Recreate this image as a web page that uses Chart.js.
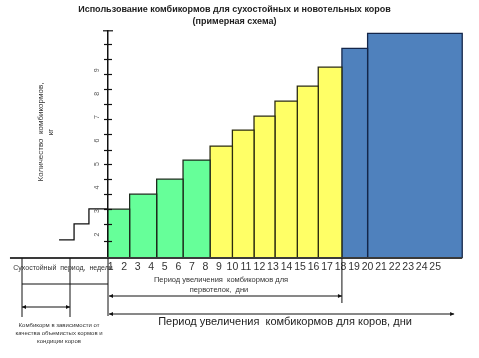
<!DOCTYPE html>
<html><head><meta charset="utf-8">
<script src="https://cdn.jsdelivr.net/npm/chart.js@4"></script>
<style>html,body{margin:0;padding:0;background:#fff}#wrap{width:479px;height:358px;position:relative}</style>
</head><body><div id="wrap"><canvas id="c"></canvas></div>
<script>
// ---- data ----
const titleLines = ['Использование комбикормов для сухостойных и новотельных коров', '(примерная схема)'];
const yTitleLines = ['Количество  комбикормов,', 'кг'];
const dayLabels = [1,2,3,4,5,6,7,8,9,10,11,12,13,14,15,16,17,18,19,20,21,22,23,24,25];
// bar boundaries along the day axis and bar heights (kg)
const barEdges = [0.8, 2.4, 4.4, 6.35, 8.35, 10, 11.6, 13.15, 14.8, 16.35, 18.1, 20, 27];
const barHeights = [3.08, 3.72, 4.36, 5.17, 5.77, 6.45, 7.04, 7.68, 8.32, 9.13, 9.93, 10.57];
const barGroups = ['early','early','early','early','heifer','heifer','heifer','heifer','heifer','heifer','cow','cow'];
const yLabelValues = [2, 3, 4, 5, 6, 7, 8, 9];
const yTickMarks = [1.72, 2.45, 3.09, 3.72, 4.36, 5.0, 5.6, 6.28, 6.91, 7.55, 8.19, 8.83, 9.47, 10.11];
// dry period staircase (left of the axis)
const dryStairX = [-2.82, -1.71, -0.61, 0.8];
const dryStairY = [1.77, 2.45, 3.09];
const dryMarks = [-5.56, -2.01];
const baselineStart = -6.45;
const heiferPeriodEnd = 18.1;
const cowPeriodEnd = 26.4;
const dryText = 'Сухостойный  период,  недели';
const heiferText = ['Период увеличения  комбикормов для', 'первотелок,  дни'];
const cowText = 'Период увеличения  комбикормов для коров, дни';
const noteText = ['Комбикорм в зависимости от', 'качества объемистых кормов и', 'кондиции коров'];

const groupFill = {early: '#66FF99', heifer: '#FFFF66', cow: '#4F81BD'};
const groupLine = {early: '#1d2b1d', heifer: '#2b2b10', cow: '#14264a'};

const datasets = barHeights.map((h, i) => ({
  data: [
    {x: barEdges[i], y: 1}, {x: barEdges[i], y: h},
    {x: barEdges[i+1], y: h}, {x: barEdges[i+1], y: 1}
  ],
  fill: 'start',
  backgroundColor: groupFill[barGroups[i]],
  borderColor: groupLine[barGroups[i]],
  borderWidth: 1.3,
  pointRadius: 0,
  tension: 0
}));

const FAM = '"Liberation Sans", Arial, sans-serif';

function seg(ctx, x1, y1, x2, y2) { ctx.beginPath(); ctx.moveTo(x1, y1); ctx.lineTo(x2, y2); ctx.stroke(); }
function arrow(ctx, x1, x2, y) {
  seg(ctx, x1, y, x2, y);
  ctx.beginPath();
  ctx.moveTo(x1, y); ctx.lineTo(x1 + 4, y - 2); ctx.lineTo(x1 + 4, y + 2); ctx.closePath(); ctx.fill();
  ctx.beginPath();
  ctx.moveTo(x2, y); ctx.lineTo(x2 - 4, y - 2); ctx.lineTo(x2 - 4, y + 2); ctx.closePath(); ctx.fill();
}

const deco = {
  id: 'deco',
  afterDraw(chart) {
    const {ctx, chartArea: a, scales: {x, y}} = chart;
    const X = v => x.getPixelForValue(v), Y = v => y.getPixelForValue(v);
    const b = a.bottom;
    ctx.save();
    // baseline
    ctx.strokeStyle = '#3a3a3a'; ctx.lineWidth = 2;
    seg(ctx, X(baselineStart), b, X(barEdges[barEdges.length - 1]), b);
    // y tick marks + cap
    ctx.strokeStyle = '#111'; ctx.lineWidth = 1.2;
    yTickMarks.forEach(v => seg(ctx, a.left - 4, Math.round(Y(v)) + 0.5, a.left + 4, Math.round(Y(v)) + 0.5));
    seg(ctx, a.left - 5, a.top + 0.5, a.left + 5, a.top + 0.5);
    // y labels (rotated)
    ctx.fillStyle = '#555'; ctx.font = '7px ' + FAM; ctx.textAlign = 'center'; ctx.textBaseline = 'middle';
    yLabelValues.forEach(v => { ctx.save(); ctx.translate(a.left - 11, Y(v)); ctx.rotate(-Math.PI / 2); ctx.fillText(String(v), 0, 0); ctx.restore(); });
    // y title
    ctx.fillStyle = '#333'; ctx.font = '8px ' + FAM;
    ctx.save(); ctx.translate(41, 132); ctx.rotate(-Math.PI / 2);
    ctx.fillText(yTitleLines[0], 0, 0); ctx.fillText(yTitleLines[1], 0, 10);
    ctx.restore();
    // staircase
    ctx.strokeStyle = '#111'; ctx.lineWidth = 1.3;
    ctx.beginPath(); ctx.moveTo(X(dryStairX[0]), Y(dryStairY[0]));
    dryStairY.forEach((v, i) => {
      ctx.lineTo(X(dryStairX[i + 1]), Y(v));
      if (i + 1 < dryStairY.length) ctx.lineTo(X(dryStairX[i + 1]), Y(dryStairY[i + 1]));
    });
    ctx.stroke();
    // dry period block
    ctx.strokeStyle = '#111'; ctx.fillStyle = '#111'; ctx.lineWidth = 1;
    const d0 = X(dryMarks[0]), d1 = X(dryMarks[1]), ax = X(barEdges[0]);
    seg(ctx, d0, b, d0, b + 59);
    seg(ctx, d1, b, d1, b + 59);
    seg(ctx, ax, b, ax, b + 58);
    seg(ctx, d0, b + 26, ax, b + 26);
    arrow(ctx, d0, d1, b + 49);
    // heifer / cow period arrows
    const hx = X(heiferPeriodEnd), cx = X(cowPeriodEnd);
    seg(ctx, hx, b, hx, b + 45);
    arrow(ctx, ax + 1, hx, b + 38);
    arrow(ctx, ax + 1, cx, b + 56);
    // texts
    ctx.fillStyle = '#333'; ctx.textAlign = 'center'; ctx.textBaseline = 'middle';
    ctx.font = '7px ' + FAM;
    ctx.fillText(dryText, (d0 + ax) / 2 - 2, b + 10);
    ctx.font = '7.5px ' + FAM;
    ctx.fillText(heiferText[0], 221, b + 22);
    ctx.fillText(heiferText[1], 219, b + 32);
    ctx.font = '11px ' + FAM; ctx.fillStyle = '#222';
    ctx.fillText(cowText, 285, b + 64);
    ctx.font = '6px ' + FAM; ctx.fillStyle = '#333';
    noteText.forEach((t, i) => ctx.fillText(t, 59, b + 67 + i * 8));
    ctx.restore();
  }
};

new Chart(document.getElementById('c'), {
  type: 'line',
  data: {datasets},
  plugins: [deco],
  options: {
    responsive: true, maintainAspectRatio: false, animation: false, events: [],
    layout: {padding: {left: 0, right: 10, top: 0, bottom: 0}},
    plugins: {
      legend: {display: false}, tooltip: {enabled: false},
      title: {display: true, text: titleLines, color: '#222',
        font: {family: FAM, size: 9, weight: 'bold', lineHeight: 1.35}, padding: {top: 3, bottom: 3}}
    },
    scales: {
      x: {type: 'linear', min: 0.8, max: 27.5,
        afterBuildTicks: s => { s.ticks = dayLabels.map(v => ({value: v})); },
        afterFit: s => { s.height = 100; },
        grid: {display: false, drawTicks: false}, border: {display: false},
        ticks: {autoSkip: false, maxRotation: 0, minRotation: 0, padding: 3, color: '#333',
          font: {family: FAM, size: 10.5}}},
      y: {type: 'linear', min: 1, max: 10.7,
        afterFit: s => { s.width = 108; },
        grid: {display: false, drawTicks: false}, border: {display: true, color: '#111', width: 1.5},
        ticks: {display: false}}
    }
  }
});
</script></body></html>
